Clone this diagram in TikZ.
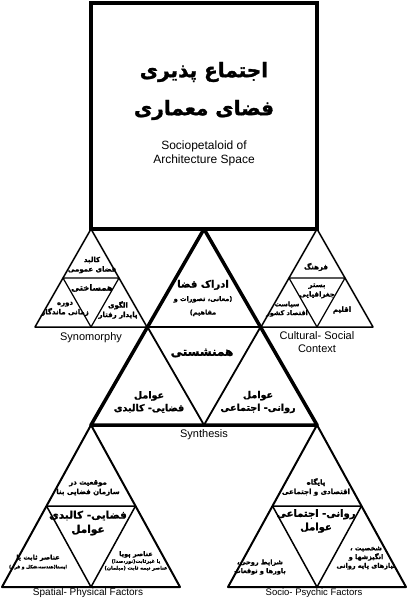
\documentclass[tikz,border=0pt]{standalone}
\usepackage{fontspec}
\setmainfont{Liberation Sans}
\newfontfamily\fa[Script=Arabic, BoldFeatures={FakeBold=1.5}]{DejaVu Sans}
\TeXXeTstate=1
\usetikzlibrary{calc}
\newcommand\rl[1]{\beginR#1\endR}
\tikzset{
  fatext/.style={align=center, inner sep=0pt, font=\fa\bfseries\fontsize{#1}{\fpeval{1.35*#1}}\selectfont},
  entext/.style={align=center, inner sep=0pt, font=\fontsize{#1}{\fpeval{1.15*#1}}\selectfont},
  smalltri/.style={line width=1.5pt, line join=round},
  lowtri/.style={line width=2pt, line join=round},
}
\begin{document}
\begin{tikzpicture}[x=1pt, y=-1pt] % Sociopetaloid of architecture space
  \useasboundingbox (0,0) rectangle (409,599);

  % main box
  \draw[line width=4.5pt] (91,3) rectangle (317,229);
  \node[fatext=20] (title) at (204,91) {\rl{اجتماع پذیری}\\[11pt]\rl{فضای معماری}};
  \node[entext=12] (titleEn) at (204,153) {Sociopetaloid of\\Architecture Space};

  % Synomorphy
  \coordinate (symA) at (91,229);
  \coordinate (symB) at (35,327);
  \coordinate (symC) at (147,327);
  \coordinate (symAB) at ($(symA)!.5!(symB)$);
  \coordinate (symAC) at ($(symA)!.5!(symC)$);
  \coordinate (symBC) at ($(symB)!.5!(symC)$);
  \draw[smalltri] (symA) -- (symB) -- (symC) -- cycle;
  \draw[smalltri, line width=1.2pt] (symAB) -- (symAC) -- (symBC) -- cycle;
  \node[fatext=7] (symTop) at (92,265) {\rl{کالبد}\\\rl{فضای عمومی}};
  \node[fatext=8.5] (symMid) at (92,288) {\rl{همساختی}};
  \node[fatext=7] (symLeft) at (65,309) {\rl{دوره}\\\rl{زمانی ماندگار}};
  \node[fatext=7] (symRight) at (118,310) {\rl{الگوی}\\\rl{پایدار رفتار}};
  \node[entext=11] (symLabel) at (91,338) {Synomorphy};

  % Cultural- Social
  \coordinate (culA) at (317,229);
  \coordinate (culB) at (261,327);
  \coordinate (culC) at (373,327);
  \coordinate (culAB) at ($(culA)!.5!(culB)$);
  \coordinate (culAC) at ($(culA)!.5!(culC)$);
  \coordinate (culBC) at ($(culB)!.5!(culC)$);
  \draw[smalltri] (culA) -- (culB) -- (culC) -- cycle;
  \draw[smalltri, line width=1.2pt] (culAB) -- (culAC) -- (culBC) -- cycle;
  \node[fatext=7] (culTop) at (316,267) {\rl{فرهنگ}};
  \node[fatext=7] (culMid) at (317,291) {\rl{بستر}\\\rl{جغرافیایی}};
  \node[fatext=6.5] (culLeft) at (287,309) {\rl{سیاست}\\\rl{اقتصاد کشور}};
  \node[fatext=7] (culRight) at (342,310) {\rl{اقلیم}};
  \node[entext=11] (culLabel) at (317,342) {Cultural- Social\\Context};

  % Spatial- Physical
  \coordinate (spaA) at (91,425);
  \coordinate (spaB) at (2,587);
  \coordinate (spaC) at (180,587);
  \coordinate (spaAB) at ($(spaA)!.5!(spaB)$);
  \coordinate (spaAC) at ($(spaA)!.5!(spaC)$);
  \coordinate (spaBC) at ($(spaB)!.5!(spaC)$);
  \draw[lowtri] (spaA) -- (spaB) -- (spaC) -- cycle;
  \draw[lowtri, line width=1.5pt] (spaAB) -- (spaAC) -- (spaBC) -- cycle;
  \node[fatext=7] (spaTop) at (88,488) {\rl{موقعیت در}\\\rl{سازمان  فضایی بنا}};
  \node[fatext=10.5] (spaMid) at (88,523) {\rl{فضایی- کالبدی}\\\rl{عوامل}};
  \node[fatext=6.5] (spaLeft) at (38,562) {\rl{عناصر ثابت یا}\\\fontsize{4.5}{8}\selectfont\rl{ایستا(هندسه،شکل و فرم)}};
  \node[fatext=5] (spaRight) at (136,561) {\fontsize{6.5}{8}\selectfont\rl{عناصر پویا}\\\rl{یا غیرثابت(نور،صدا)}\\\rl{عناصر نیمه ثابت (مبلمان)}};
  \node[entext=10] (spaLabel) at (88,593) {Spatial- Physical Factors};

  % Socio- Psychic
  \coordinate (socA) at (317,425);
  \coordinate (socB) at (228,587);
  \coordinate (socC) at (406,587);
  \coordinate (socAB) at ($(socA)!.5!(socB)$);
  \coordinate (socAC) at ($(socA)!.5!(socC)$);
  \coordinate (socBC) at ($(socB)!.5!(socC)$);
  \draw[lowtri] (socA) -- (socB) -- (socC) -- cycle;
  \draw[lowtri, line width=1.5pt] (socAB) -- (socAC) -- (socBC) -- cycle;
  \node[fatext=7] (socTop) at (316,487) {\rl{پایگاه}\\\rl{اقتصادی و اجتماعی}};
  \node[fatext=10] (socMid) at (316,521) {\rl{روانی- اجتماعی}\\\rl{عوامل}};
  \node[fatext=6.5] (socLeft) at (260,567) {\rl{شرایط روحی،}\\\rl{باورها و توقعات}};
  \node[fatext=6.5] (socRight) at (366,558) {\rl{شخصیت ،}\\\rl{انگیزشها و}\\\rl{نیازهای پایه روانی}};
  \node[entext=9.5] (socLabel) at (314,593) {Socio- Psychic Factors};

  % Synthesis
  \coordinate (synA) at (204,229);
  \coordinate (synB) at (91,425);
  \coordinate (synC) at (317,425);
  \coordinate (synAB) at ($(synA)!.5!(synB)$);
  \coordinate (synAC) at ($(synA)!.5!(synC)$);
  \coordinate (synBC) at ($(synB)!.5!(synC)$);
  \draw[line width=1.8pt] (synAB) -- (synAC) -- (synBC) -- cycle;
  \draw[line width=3.5pt, line join=round] (synA) -- (synB) -- (synC) -- cycle;
  \node[fatext=10] (synTop) at (203,298) {\rl{ادراک فضا}\\\fontsize{6.5}{11}\selectfont\rl{(معانی، تصورات و}\\\fontsize{6.5}{9}\selectfont\rl{مفاهیم)}};
  \node[fatext=12] (synMid) at (202,353) {\rl{همنشستی}};
  \node[fatext=9.5] (synLeft) at (149,402) {\rl{عوامل}\\\rl{فضایی- کالبدی}};
  \node[fatext=9.5] (synRight) at (258,402) {\rl{عوامل}\\\rl{روانی- اجتماعی}};
  \node[entext=11] (synLabel) at (204,435) {Synthesis};
\end{tikzpicture}
\end{document}
